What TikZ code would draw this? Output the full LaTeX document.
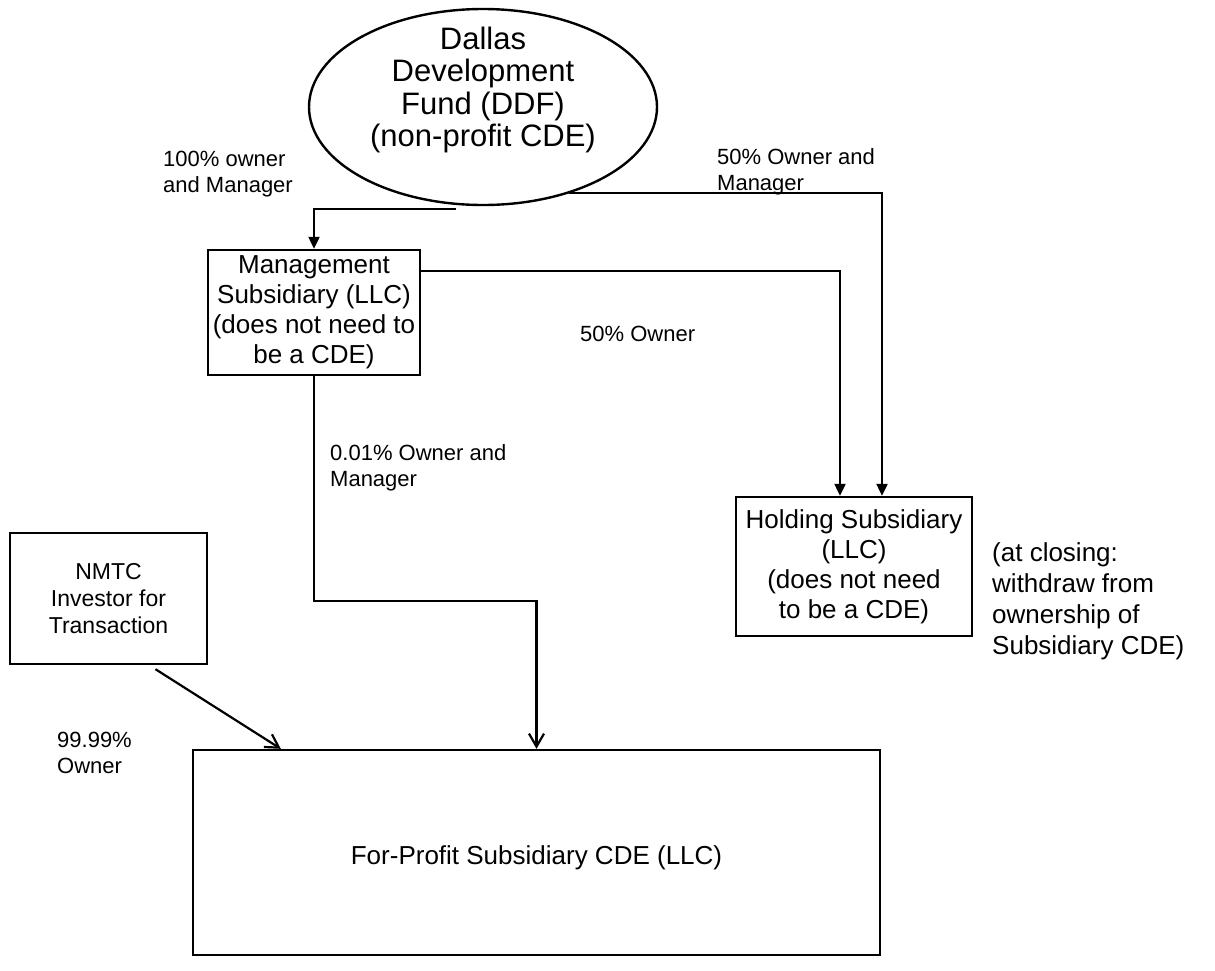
\documentclass[tikz,border=0pt]{standalone}
\usepackage{fontspec}
\setmainfont{Liberation Sans}
\usetikzlibrary{arrows.meta,shapes.geometric,calc}
\begin{document}
\begin{tikzpicture}[x=1pt,y=-1pt,
  box/.style={draw,line width=2.4pt,align=center,inner sep=0pt,font=\fontsize{26}{30}\selectfont},
  lbl/.style={align=left,anchor=north west,inner sep=0pt,font=\fontsize{22}{26}\selectfont},
  ln/.style={line width=2.2pt},
  tri/.style={ln,-{Triangle[length=12pt,width=11pt]}},
  barb/.style={ln,-{Straight Barb[length=13pt,width=15pt,line width=2.2pt]}}]
\useasboundingbox[fill=white] (0,0) rectangle (1215,970);
\node[draw,ellipse,line width=2.4pt,minimum width=348pt,minimum height=196pt,inner sep=0pt] (ddf) at (483,107) {};
\node[align=center,inner sep=0pt,font=\fontsize{31}{32.5}\selectfont] (ddftext) at (483,90) {Dallas\\Development\\Fund (DDF)\\(non-profit CDE)};
\node[box,minimum width=212pt,minimum height=125pt] (mgmt) at (314,312.5) {Management\\Subsidiary (LLC)\\(does not need to\\be a CDE)};
\node[box,minimum width=236pt,minimum height=139pt] (hold) at (854,566.5) {Holding Subsidiary\\(LLC)\\(does not need\\to be a CDE)};
\node[box,minimum width=197pt,minimum height=131pt,font=\fontsize{23}{27}\selectfont] (nmtc) at (108.5,598.5) {NMTC\\Investor for\\Transaction};
\node[box,minimum width=687pt,minimum height=205pt] (fp) at (536.5,852.5) {};
\node[inner sep=0pt,font=\fontsize{26}{30}\selectfont] (fptext) at (536.5,858) {For-Profit Subsidiary CDE (LLC)};
\node[lbl] (l1) at (163,151) {100\% owner\\and Manager};
\node[lbl] (l2) at (717,148) {50\% Owner and\\Manager};
\node[lbl] (l3) at (580,326) {50\% Owner};
\node[lbl] (l4) at (330,444) {0.01\% Owner and\\Manager};
\node[lbl] (l5) at (57,732) {99.99\%\\Owner};
\node[lbl,font=\fontsize{26}{31}\selectfont] (note) at (992,542) {(at closing:\\withdraw from\\ownership of\\Subsidiary CDE)};
\draw[tri] ($(ddf.south)+(-27,3)$) -| (mgmt.north);
\draw[tri] (ddf.315) -| ($(hold.north)+(28,0)$);
\draw[tri] ($(mgmt.north east)+(0,22)$) -| ($(hold.north)+(-14,0)$);
\draw[barb] (mgmt.south) -- ++(0,225) -| (fp.north);
\draw[barb] ($(nmtc.south)+(47,4)$) -- ($(fp.north west)+(89,0)$);
\end{tikzpicture}
\end{document}
